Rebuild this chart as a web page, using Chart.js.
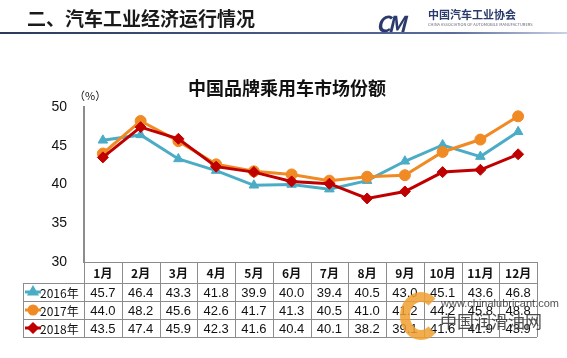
<!DOCTYPE html>
<html>
<head>
<meta charset="utf-8">
<script src="https://cdn.jsdelivr.net/npm/chart.js@4/dist/chart.umd.min.js"></script>
<style>
  body { margin: 0; background: #fff; }
  #wrap { position: relative; width: 567px; height: 358px; overflow: hidden; font-family: "Noto Sans CJK SC", "Noto Sans", sans-serif; }
  #head { position: absolute; left: 27px; top: 4px; font-size: 19px; font-weight: bold; color: #1a1a1a; }
  #rule { position: absolute; left: 0; top: 32px; width: 567px; height: 2px; background: linear-gradient(to right, #2b3a5c, #5a6d9a 80%, #c9d2e6); }
  #logo { position: absolute; left: 376px; top: 6px; font-size: 22px; font-style: italic; font-weight: bold; color: #2b3a6c; letter-spacing: -3px; }
  #logoName { position: absolute; left: 428px; top: 6px; font-size: 11px; font-weight: bold; color: #2b3a6c; }
  #logoEn { position: absolute; left: 428px; top: 21px; font-size: 4px; color: #667; }
  #wmC { position: absolute; left: 400px; top: 292px; width: 22px; height: 28px; border: 10px solid rgba(240,160,48,0.85); border-right-color: transparent; border-radius: 50%; }
  #wmUrl { position: absolute; left: 441px; top: 297px; font-size: 11px; color: rgba(50,50,50,0.85); font-family: "Liberation Sans", sans-serif; }
  #wmName { position: absolute; left: 440px; top: 308px; font-size: 17px; color: rgba(60,60,60,0.9); }
  canvas { position: absolute; left: 0; top: 0; }
</style>
</head>
<body>
<div id="wrap">
  <canvas id="c" width="567" height="358"></canvas>
  <div id="head">二、汽车工业经济运行情况</div>
  <div id="rule"></div>
  <div id="logo">CM</div>
  <div id="logoName">中国汽车工业协会</div>
  <div id="logoEn">CHINA ASSOCIATION OF AUTOMOBILE MANUFACTURERS</div>
  <div id="wmC"></div>
  <div id="wmUrl">www.chinalubricant.com</div>
  <div id="wmName">中国润滑油网</div>
</div>
<script>
const months = ['1月', '2月', '3月', '4月', '5月', '6月', '7月', '8月', '9月', '10月', '11月', '12月'];
const seriesNames = ['2016年', '2017年', '2018年'];
const share2016 = [45.7, 46.4, 43.3, 41.8, 39.9, 40.0, 39.4, 40.5, 43.0, 45.1, 43.6, 46.8];
const share2017 = [44.0, 48.2, 45.6, 42.6, 41.7, 41.3, 40.5, 41.0, 41.2, 44.2, 45.8, 48.8];
const share2018 = [43.5, 47.4, 45.9, 42.3, 41.6, 40.4, 40.1, 38.2, 39.1, 41.6, 41.9, 43.9];
const yTicks = [30, 35, 40, 45, 50];

const colors = ['#4bacc6', '#f08a24', '#c00000'];
const markers = ['triangle', 'circle', 'rectRot'];
const allSeries = [share2016, share2017, share2018];

// data table under the plot, columns follow the x scale
const tablePlugin = {
  id: 'tablePlugin',
  afterDraw(chart) {
    const ctx = chart.ctx;
    const area = chart.chartArea;
    const xs = chart.scales.x;
    const colW = (area.right - area.left) / months.length;
    const labelLeft = 23;
    const headTop = area.bottom;
    const headH = 21, rowH = 18;
    const bottom = headTop + headH + rowH * 3;

    ctx.save();
    ctx.strokeStyle = '#8c8c8c';
    ctx.lineWidth = 1;
    ctx.beginPath();
    ctx.moveTo(area.left, headTop + 0.5);
    ctx.lineTo(area.right, headTop + 0.5);
    for (let r = 0; r <= 3; r++) {
      const y = Math.round(headTop + headH + r * rowH) + 0.5;
      ctx.moveTo(labelLeft, y);
      ctx.lineTo(area.right, y);
    }
    for (let i = 0; i <= months.length; i++) {
      const x = Math.round(area.left + i * colW) + 0.5;
      ctx.moveTo(x, headTop);
      ctx.lineTo(x, bottom);
    }
    ctx.moveTo(labelLeft + 0.5, headTop + headH);
    ctx.lineTo(labelLeft + 0.5, bottom);
    ctx.stroke();

    ctx.fillStyle = '#111';
    ctx.textAlign = 'center';
    ctx.textBaseline = 'middle';
    ctx.font = 'bold 12px "Noto Sans CJK SC", sans-serif';
    months.forEach((m, i) => {
      ctx.fillText(m, xs.getPixelForValue(i), headTop + headH / 2 + 1);
    });

    ctx.font = '13px "Liberation Sans", sans-serif';
    allSeries.forEach((vals, r) => {
      const cy = headTop + headH + r * rowH + rowH / 2 + 1;
      vals.forEach((v, i) => {
        ctx.fillText(v.toFixed(1), xs.getPixelForValue(i), cy);
      });
      // legend key
      ctx.strokeStyle = colors[r];
      ctx.lineWidth = 3;
      ctx.beginPath();
      ctx.moveTo(25, cy - 1);
      ctx.lineTo(41, cy - 1);
      ctx.stroke();
      ctx.fillStyle = colors[r];
      Chart.helpers.drawPoint(ctx, { pointStyle: markers[r], radius: 4, rotation: 0, borderWidth: 1 }, 33, cy - 1);
      ctx.fillStyle = '#111';
      ctx.textAlign = 'left';
      ctx.font = '12px "Noto Sans CJK SC", sans-serif';
      ctx.fillText(seriesNames[r], 40, cy);
      ctx.textAlign = 'center';
      ctx.font = '13px "Liberation Sans", sans-serif';
    });

    // unit and title
    ctx.font = '11px "Noto Sans CJK SC", sans-serif';
    ctx.textAlign = 'left';
    ctx.fillText('（%）', 74, area.top - 11);
    ctx.font = 'bold 18px "Noto Sans CJK SC", sans-serif';
    ctx.textAlign = 'center';
    ctx.fillText('中国品牌乘用车市场份额', 287, 88);
    ctx.restore();
  }
};

new Chart(document.getElementById('c'), {
  type: 'line',
  data: {
    labels: months,
    datasets: allSeries.map((vals, i) => ({
      label: seriesNames[i],
      data: vals,
      borderColor: colors[i],
      backgroundColor: colors[i],
      borderWidth: 3,
      pointStyle: markers[i],
      pointRadius: 5.5,
      pointBorderWidth: 1,
      tension: 0
    })).reverse()
  },
  options: {
    responsive: false,
    animation: false,
    layout: { padding: { left: 0, top: 107, right: 30, bottom: 96 } },
    plugins: { legend: { display: false }, title: { display: false }, tooltip: { enabled: false } },
    scales: {
      x: { display: false, offset: true },
      y: {
        min: 30, max: 50,
        afterFit(scale) { scale.width = 84; },
        afterBuildTicks(scale) { scale.ticks = yTicks.map(v => ({ value: v })); },
        grid: { display: false, drawTicks: false },
        border: { display: true, color: '#8c8c8c', width: 2 },
        ticks: { padding: 17, color: '#111', font: { family: 'Liberation Sans', size: 14 } }
      }
    }
  },
  plugins: [tablePlugin]
});
</script>
</body>
</html>
